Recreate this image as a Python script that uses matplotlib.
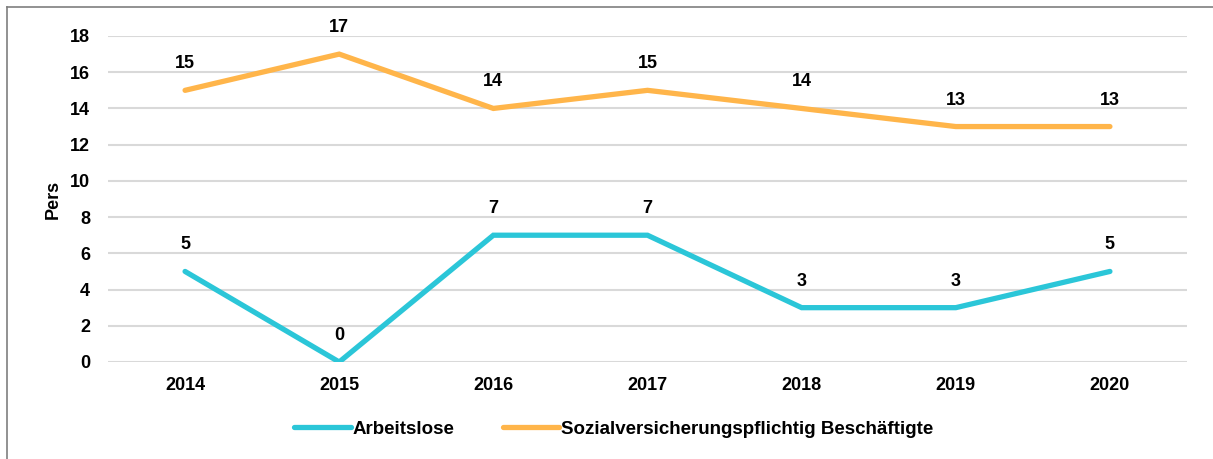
import matplotlib.pyplot as plt
from matplotlib.lines import Line2D

plt.rcParams['font.family'] = ['Liberation Sans', 'DejaVu Sans']
plt.rcParams['font.weight'] = 'bold'

years = ['2014', '2015', '2016', '2017', '2018', '2019', '2020']
arbeitslose = [5, 0, 7, 7, 3, 3, 5]
beschaeftigte = [15, 17, 14, 15, 14, 13, 13]
y_ticks = [0, 2, 4, 6, 8, 10, 12, 14, 16, 18]

CYAN = '#2BC6D8'
ORANGE = '#FFB54A'
GRID = '#D9D9D9'

fig = plt.figure(figsize=(12.13, 4.59), dpi=100)
ax = fig.add_axes([108/1213, 1 - 362/459, (1187 - 108)/1213, (362 - 36)/459])

x = list(range(len(years)))
ax.plot(x, arbeitslose, color=CYAN, lw=3.8, solid_capstyle='round',
        solid_joinstyle='miter', label='Arbeitslose', zorder=3)
ax.plot(x, beschaeftigte, color=ORANGE, lw=3.8, solid_capstyle='round',
        solid_joinstyle='miter', label='Sozialversicherungspflichtig Beschäftigte', zorder=3)

for xs, ys in [(x, arbeitslose), (x, beschaeftigte)]:
    for xi, yi in zip(xs, ys):
        ax.annotate(str(yi), (xi, yi), xytext=(0, 13), textcoords='offset points',
                    ha='center', va='bottom', fontsize=13, fontweight='bold')

ax.set_xlim(-0.5, len(years) - 0.5)
ax.set_ylim(0, 18)
ax.set_yticks(y_ticks)
ax.set_xticks(x)
ax.set_xticklabels(years)
ax.tick_params(axis='both', length=0, labelsize=13)
ax.tick_params(axis='y', pad=13)
ax.tick_params(axis='x', pad=11)
ax.grid(axis='y', color=GRID, lw=1.5)
ax.set_axisbelow(True)
for s in ax.spines.values():
    s.set_visible(False)
ax.set_ylabel('Pers', fontsize=13, fontweight='bold', labelpad=6)

handles = [Line2D([], [], color=CYAN, lw=3.8, solid_capstyle='round'),
           Line2D([], [], color=ORANGE, lw=3.8, solid_capstyle='round')]
fig.legend(handles, ['Arbeitslose', 'Sozialversicherungspflichtig Beschäftigte'],
           loc='center', bbox_to_anchor=(614/1213, 1 - 429/459), ncol=2, frameon=False,
           fontsize=13.5, handlelength=3.0, handletextpad=0.1, columnspacing=2.6)

# outer frame (only left and top edges visible)
fig.add_artist(Line2D([7/1213, 7/1213], [0, 1 - 7/459], transform=fig.transFigure,
                      color='#7F7F7F', lw=1.2))
fig.add_artist(Line2D([7/1213, 1], [1 - 7/459, 1 - 7/459], transform=fig.transFigure,
                      color='#7F7F7F', lw=1.2))

fig.savefig('out.png', dpi=100)
